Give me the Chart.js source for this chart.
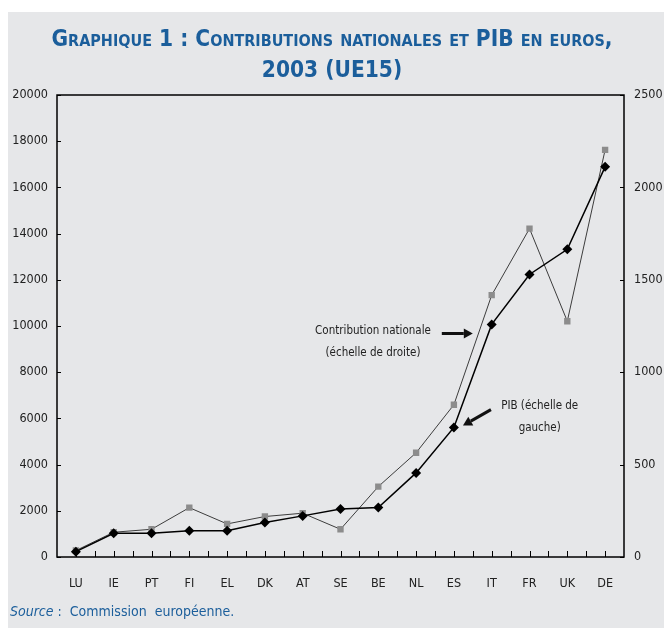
<!DOCTYPE html>
<html>
<head>
<meta charset="utf-8">
<script src="https://cdn.jsdelivr.net/npm/chart.js@4/dist/chart.umd.min.js"></script>
<style>
  body { margin: 0; background: #fff; width: 664px; height: 628px; position: relative; overflow: hidden; }
  #fond { position: absolute; left: 8px; top: 12px; right: 0; bottom: 0; background: #e6e7e9; }
  #graphe { position: absolute; left: 0; top: 0; }
  #titre { position: absolute; left: 0; width: 664px; top: 23px; text-align: center; color: #1b5e9b;
    font: bold 22.5px 'DejaVu Sans Condensed', 'DejaVu Sans', sans-serif; font-variant: small-caps; line-height: 31px; }
  #source { position: absolute; left: 10px; top: 603px; color: #1b5e9b;
    font: 14px 'DejaVu Sans Condensed', 'DejaVu Sans', sans-serif; }
</style>
</head>
<body>
<div id="fond"></div>
<canvas id="graphe" width="664" height="628"></canvas>
<div id="titre">Graphique 1 : Contributions nationales et PIB en euros,<br>2003 (UE15)</div>
<div id="source"><i>Source</i> :&nbsp; Commission&nbsp; européenne.</div>
<script>
  var pays = ['LU', 'IE', 'PT', 'FI', 'EL', 'DK', 'AT', 'SE', 'BE', 'NL', 'ES', 'IT', 'FR', 'UK', 'DE']
  // PIB, echelle de gauche
  var pib = [230, 1030, 1030, 1140, 1140, 1490, 1780, 2080, 2140, 3640, 5610, 10070, 12230, 13320, 16890]
  // contribution nationale, echelle de droite
  var contribution = [35, 134, 150, 267, 179, 219, 237, 150, 381, 564, 824, 1417, 1777, 1276, 2203]

  var police = "'DejaVu Sans Condensed', 'DejaVu Sans', sans-serif"

  // notes dans le graphique, en coordonnees (indice pays, valeur echelle gauche)
  var notes = [
    { texte: ['Contribution nationale', '(échelle de droite)'], x: 7.86, y: [9800, 8850],
      fleche: [9.68, 9675, 10.5, 9675] },
    { texte: ['PIB (échelle de', 'gauche)'], x: 12.27, y: [6550, 5600],
      fleche: [10.98, 6380, 10.24, 5690] }
  ]

  function fleche(ctx, x1, y1, x2, y2) {
    var ang = Math.atan2(y2 - y1, x2 - x1)
    var t = 9
    ctx.beginPath()
    ctx.moveTo(x1, y1)
    ctx.lineTo(x2 - Math.cos(ang) * t, y2 - Math.sin(ang) * t)
    ctx.lineWidth = 3
    ctx.stroke()
    ctx.beginPath()
    ctx.moveTo(x2, y2)
    ctx.lineTo(x2 - Math.cos(ang) * t - Math.sin(ang) * 5, y2 - Math.sin(ang) * t + Math.cos(ang) * 5)
    ctx.lineTo(x2 - Math.cos(ang) * t + Math.sin(ang) * 5, y2 - Math.sin(ang) * t - Math.cos(ang) * 5)
    ctx.closePath()
    ctx.fill()
  }

  const cadre = {
    id: 'cadre',
    beforeDatasetsDraw(chart) {
      const { ctx, chartArea: a, scales } = chart
      ctx.save()
      ctx.strokeStyle = '#000'
      ctx.lineWidth = 1.5
      ctx.strokeRect(a.left, a.top, a.right - a.left, a.bottom - a.top)
      ctx.lineWidth = 1
      // petits traits vers l'interieur
      scales.y.ticks.forEach(function (t) {
        var p = Math.round(scales.y.getPixelForValue(t.value)) + 0.5
        ctx.beginPath(); ctx.moveTo(a.left, p); ctx.lineTo(a.left + 4, p); ctx.stroke()
      })
      scales.y2.ticks.forEach(function (t) {
        var p = Math.round(scales.y2.getPixelForValue(t.value)) + 0.5
        ctx.beginPath(); ctx.moveTo(a.right, p); ctx.lineTo(a.right - 4, p); ctx.stroke()
      })
      for (var i = 0; i < pays.length; i++) {
        var xs = [scales.x.getPixelForValue(i), scales.x.getPixelForValue(i + 0.5)]
        xs.forEach(function (x) {
          x = Math.round(x) + 0.5
          if (x >= a.right - 1) return
          ctx.beginPath(); ctx.moveTo(x, a.bottom); ctx.lineTo(x, a.bottom - 6); ctx.stroke()
        })
      }
      ctx.restore()
    },
    afterDraw(chart) {
      const { ctx, scales } = chart
      ctx.save()
      ctx.fillStyle = '#222'
      ctx.strokeStyle = '#111'
      ctx.font = '11.5px ' + police
      ctx.textAlign = 'center'
      ctx.textBaseline = 'middle'
      notes.forEach(function (n) {
        var x = scales.x.getPixelForValue(n.x)
        n.texte.forEach(function (l, k) {
          ctx.fillText(l, x, scales.y.getPixelForValue(n.y[k]))
        })
        ctx.fillStyle = '#111'
        fleche(ctx,
          scales.x.getPixelForValue(n.fleche[0]), scales.y.getPixelForValue(n.fleche[1]),
          scales.x.getPixelForValue(n.fleche[2]), scales.y.getPixelForValue(n.fleche[3]))
        ctx.fillStyle = '#222'
      })
      ctx.restore()
    }
  }

  new Chart(document.getElementById('graphe'), {
    type: 'line',
    data: {
      labels: pays,
      datasets: [{
        label: 'PIB (échelle de gauche)',
        data: pib,
        yAxisID: 'y',
        borderColor: '#000',
        borderWidth: 1.5,
        pointStyle: 'rectRot',
        pointRadius: 5,
        pointBackgroundColor: '#000',
        pointBorderColor: '#000',
        pointBorderWidth: 0
      }, {
        label: 'Contribution nationale (échelle de droite)',
        data: contribution,
        yAxisID: 'y2',
        borderColor: '#3c3c3c',
        borderWidth: 1,
        pointStyle: 'rect',
        pointRadius: 4.5,
        pointBackgroundColor: '#8c8c8c',
        pointBorderColor: '#8c8c8c',
        pointBorderWidth: 0
      }]
    },
    options: {
      responsive: false,
      animation: false,
      layout: { padding: { top: 95, left: 0, right: 0, bottom: 0 } },
      plugins: { legend: { display: false }, title: { display: false }, tooltip: { enabled: false } },
      scales: {
        x: {
          offset: true,
          grid: { display: false, drawTicks: false },
          border: { display: false },
          ticks: { color: '#222', padding: 19, font: { family: police, size: 12.5 }, maxRotation: 0 },
          afterFit: function (s) { s.height = 71 }
        },
        y: {
          position: 'left',
          min: 0, max: 20000,
          grid: { display: false, drawTicks: false },
          border: { display: false },
          ticks: {
            stepSize: 400, autoSkip: false, padding: 9, color: '#222',
            font: { family: police, size: 12.5 },
            callback: function (v) { return v % 2000 === 0 ? String(v) : null }
          },
          afterFit: function (s) { s.width = 57 }
        },
        y2: {
          position: 'right',
          min: 0, max: 2500,
          grid: { display: false, drawTicks: false },
          border: { display: false },
          ticks: {
            stepSize: 500, padding: 10, color: '#222', font: { family: police, size: 12.5 },
            callback: function (v) { return String(v) }
          },
          afterFit: function (s) { s.width = 40 }
        }
      }
    },
    plugins: [cadre]
  })
</script>
</body>
</html>
